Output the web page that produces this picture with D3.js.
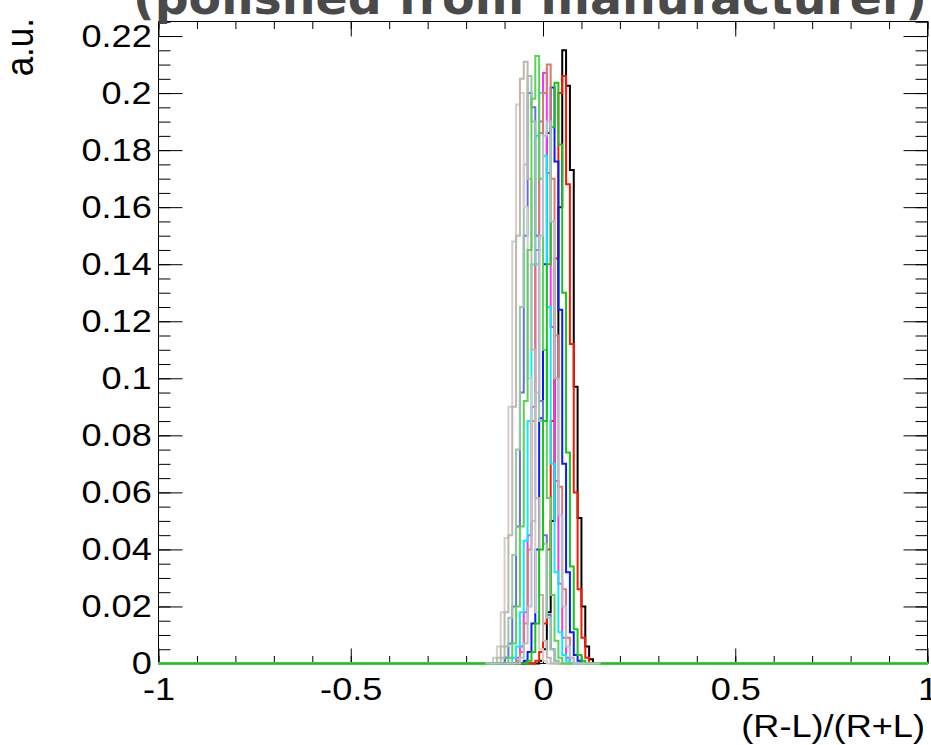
<!DOCTYPE html>
<html>
<head>
<meta charset="utf-8">
<script src="https://cdn.jsdelivr.net/npm/d3@7"></script>
<style>
  html, body { margin: 0; padding: 0; background: #fff; overflow: hidden; }
  svg { display: block; }
  .axis text, .lbl { font-family: "Liberation Sans", Arial, Helvetica, sans-serif; fill: #000; }
</style>
</head>
<body>
<div id="chart"></div>
<script>
// histogram binning: 200 bins of 0.01 over -1..1
const binWidth = 0.01;
const xRange = [-1, 1];
const yMax = 0.2251;

const xTickValues = [-1, -0.5, 0, 0.5, 1];
const xTickLabels = ["-1", "-0.5", "0", "0.5", "1"];
const yTickValues = [0, 0.02, 0.04, 0.06, 0.08, 0.1, 0.12, 0.14, 0.16, 0.18, 0.2, 0.22];
const yTickLabels = ["0", "0.02", "0.04", "0.06", "0.08", "0.1", "0.12", "0.14", "0.16", "0.18", "0.2", "0.22"];

// bin contents (only the non-empty bins), first bin starts at seriesStart
const hBlack     = [0.001, 0.005, 0.018, 0.05, 0.1, 0.16, 0.215, 0.2026, 0.173, 0.097, 0.051, 0.02, 0.006, 0.0015];
const hRed       = [0.001, 0.004, 0.014, 0.04, 0.085, 0.142, 0.2, 0.206, 0.168, 0.112, 0.06, 0.026, 0.009, 0.002];
const hBlue      = [0.001, 0.004, 0.014, 0.04, 0.086, 0.14, 0.186, 0.202, 0.176, 0.124, 0.07, 0.032, 0.011, 0.003, 0.001];
const hMagenta   = [0.002, 0.006, 0.018, 0.045, 0.09, 0.145, 0.19, 0.207, 0.172, 0.118, 0.064, 0.028, 0.009, 0.002];
const hCyan      = [0.002, 0.006, 0.018, 0.043, 0.085, 0.14, 0.185, 0.2, 0.178, 0.125, 0.07, 0.032, 0.011, 0.003, 0.001];
const hSalmon    = [0.001, 0.004, 0.014, 0.04, 0.085, 0.14, 0.186, 0.2, 0.21, 0.17, 0.115, 0.062, 0.026, 0.009, 0.002];
const hSlate     = [0.002, 0.007, 0.02, 0.048, 0.095, 0.15, 0.2, 0.195, 0.15, 0.092, 0.045, 0.017, 0.005, 0.001];
const hPaleGreen = [0.002, 0.006, 0.016, 0.038, 0.075, 0.125, 0.175, 0.206, 0.19, 0.14, 0.085, 0.042, 0.016, 0.005, 0.001];
const hLightGray = [0.002, 0.006, 0.018, 0.044, 0.09, 0.148, 0.196, 0.2, 0.16, 0.1, 0.05, 0.018, 0.005, 0.001];
const hBeige     = [0.002, 0.006, 0.018, 0.045, 0.09, 0.15, 0.205, 0.211, 0.17, 0.11, 0.058, 0.024, 0.008, 0.002];
const hLightGreen= [0.002, 0.007, 0.02, 0.048, 0.092, 0.145, 0.198, 0.213, 0.17, 0.11, 0.058, 0.024, 0.008, 0.002];
const hGreen     = [0.001, 0.004, 0.014, 0.04, 0.085, 0.14, 0.188, 0.2036, 0.182, 0.13, 0.074, 0.034, 0.012, 0.003, 0.001];
const hGrayBlue  = [0.002, 0.007, 0.02, 0.05, 0.095, 0.15, 0.185, 0.19, 0.155, 0.1, 0.052, 0.02, 0.006, 0.002];

const seriesValues = [hBlack, hRed, hBlue, hMagenta, hCyan, hSalmon, hSlate, hPaleGreen, hLightGray, hBeige, hLightGreen, hGreen, hGrayBlue];
const seriesStart  = [-0.01, -0.02, -0.05, -0.07, -0.08, -0.07, -0.10, -0.11, -0.13, -0.12, -0.09, -0.04, -0.06];
const seriesLo     = [-1, -1, -1, -1, -1, -1, -1, -1, -1, -1, -1, -1, -0.15];
const seriesHi     = [1, 1, 1, 1, 1, 1, 1, 1, 1, 1, 1, 1, 0.15];
const seriesColors = ["#000000", "#ff1500", "#0a1cff", "#ff30ff", "#00f0ff", "#de7868", "#6f6be0",
                      "#92c9a8", "#d2ceca", "#c0b6ac", "#59d454", "#14c814", "#b4c0cc"];

// canvas
const svg_width = 931;
const svg_height = 745;
const frame = { left: 158.5, right: 927.5, top: 21.5, bottom: 663.5 };

const svg = d3.select("#chart").append("svg")
    .attr("width", svg_width)
    .attr("height", svg_height);

const xScale = d3.scaleLinear(xRange, [frame.left, frame.right]);
const yScale = d3.scaleLinear([0, yMax], [frame.bottom, frame.top]);

// step outline of one histogram
function stepPoints(start, values, lo, hi) {
    const n = Math.round((hi - lo) / binWidth);
    const pts = [];
    for (let i = 0; i < n; i++) {
        const x0 = lo + i * binWidth;
        const j = Math.round((x0 - start) / binWidth);
        const v = (j >= 0 && j < values.length) ? values[j] : 0;
        pts.push([x0, v], [x0 + binWidth, v]);
    }
    return pts;
}

const line = d3.line()
    .x(d => xScale(d[0]))
    .y(d => yScale(d[1]));

const histData = seriesValues.map((v, i) => ({
    pts: stepPoints(seriesStart[i], v, seriesLo[i], seriesHi[i]),
    color: seriesColors[i]
}));

// frame
svg.append("rect")
    .attr("x", frame.left).attr("y", frame.top)
    .attr("width", frame.right - frame.left)
    .attr("height", frame.bottom - frame.top)
    .attr("fill", "none")
    .attr("stroke", "#000")
    .attr("stroke-width", 1);

// axes (ticks on all four sides, pointing inward)
const xMinor = d3.range(-1, 1.0001, 0.1).map(d => +d.toFixed(2));
const yMinor = d3.range(0, 0.2251, 0.005).map(d => +d.toFixed(3));

function drawAxis(axis, tx, ty, cls) {
    const g = svg.append("g").attr("class", "axis " + cls)
        .attr("transform", `translate(${tx},${ty})`)
        .call(axis);
    g.select(".domain").remove();
    g.selectAll(".tick line").attr("stroke", "#000").attr("stroke-width", 1);
    return g;
}

const xAxisDraw = drawAxis(d3.axisBottom(xScale).tickValues(xTickValues)
    .tickFormat((d, i) => xTickLabels[i]).tickSize(-15).tickPadding(14), 0, frame.bottom, "x");
xAxisDraw.selectAll("text").style("font-size", "32px").attr("transform", "scale(1.13,1)");
drawAxis(d3.axisBottom(xScale).tickValues(xMinor).tickFormat("").tickSize(-7.5), 0, frame.bottom, "xm");
drawAxis(d3.axisTop(xScale).tickValues(xTickValues).tickFormat("").tickSize(-15), 0, frame.top, "xt");
drawAxis(d3.axisTop(xScale).tickValues(xMinor).tickFormat("").tickSize(-7.5), 0, frame.top, "xtm");

const yAxisDraw = drawAxis(d3.axisLeft(yScale).tickValues(yTickValues)
    .tickFormat((d, i) => yTickLabels[i]).tickSize(-24).tickPadding(6), frame.left, 0, "y");
yAxisDraw.selectAll("text").style("font-size", "32px").attr("transform", "scale(1.13,1)");
drawAxis(d3.axisLeft(yScale).tickValues(yMinor).tickFormat("").tickSize(-12), frame.left, 0, "ym");
drawAxis(d3.axisRight(yScale).tickValues(yTickValues).tickFormat("").tickSize(-24), frame.right, 0, "yr");
drawAxis(d3.axisRight(yScale).tickValues(yMinor).tickFormat("").tickSize(-12), frame.right, 0, "yrm");

// histograms
svg.append("g").attr("class", "hists")
    .selectAll("path").data(histData).join("path")
    .attr("d", d => line(d.pts))
    .attr("fill", "none")
    .attr("stroke", d => d.color)
    .attr("stroke-width", 2)
    .attr("stroke-linejoin", "miter");

// titles
svg.append("text").attr("class", "lbl")
    .attr("transform", "translate(925,737) scale(1.13,1)")
    .attr("text-anchor", "end")
    .style("font-size", "32px")
    .text("(R-L)/(R+L)");

svg.append("text").attr("class", "lbl")
    .attr("transform", "translate(33,18) rotate(-90) scale(1,1.13)")
    .attr("text-anchor", "end")
    .style("font-size", "35px")
    .text("a.u.");

svg.append("text")
    .attr("x", 133).attr("y", 14)
    .attr("textLength", 794)
    .attr("lengthAdjust", "spacingAndGlyphs")
    .style("font-family", "'DejaVu Sans', Verdana, sans-serif")
    .style("font-weight", "bold")
    .style("font-size", "46px")
    .style("fill", "#4a4a4a")
    .text("(polished from manufacturer)");
</script>
</body>
</html>
